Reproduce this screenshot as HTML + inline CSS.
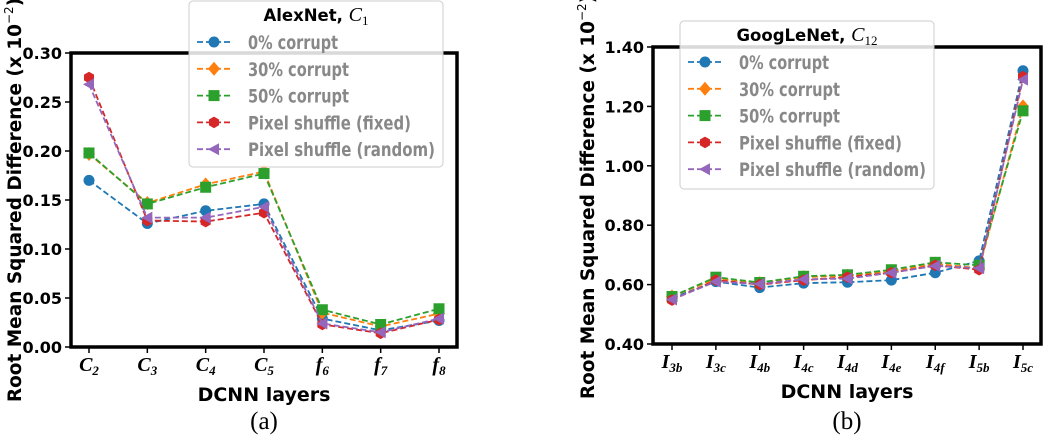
<!DOCTYPE html>
<html><head><meta charset="utf-8"><style>
body{margin:0;background:#fff;width:1050px;height:437px;overflow:hidden}
</style></head><body>
<svg id="s" width="1050" height="437" xmlns="http://www.w3.org/2000/svg" font-family="DejaVu Sans, Liberation Sans, sans-serif"></svg>
<script>
const alexCats=["C","C","C","C","f","f","f"];
const alexSubs=["2","3","4","5","6","7","8"];
const alexTicks=[0,0.05,0.10,0.15,0.20,0.25,0.30];
const alex0=[0.170,0.126,0.139,0.146,0.029,0.017,0.027];
const alex30=[0.197,0.147,0.166,0.179,0.035,0.021,0.034];
const alex50=[0.198,0.146,0.163,0.177,0.038,0.023,0.039];
const alexFixed=[0.275,0.129,0.128,0.137,0.023,0.014,0.028];
const alexRandom=[0.268,0.132,0.132,0.143,0.024,0.015,0.029];
const gCats=["I","I","I","I","I","I","I","I","I"];
const gSubs=["3b","3c","4b","4c","4d","4e","4f","5b","5c"];
const gTicks=[0.4,0.6,0.8,1.0,1.2,1.4];
const g0=[0.555,0.610,0.590,0.605,0.608,0.615,0.640,0.680,1.320];
const g30=[0.560,0.620,0.605,0.625,0.630,0.645,0.670,0.655,1.200];
const g50=[0.560,0.625,0.607,0.628,0.633,0.650,0.675,0.665,1.185];
const gFixed=[0.548,0.615,0.600,0.615,0.625,0.640,0.665,0.650,1.300];
const gRandom=[0.550,0.610,0.602,0.618,0.620,0.640,0.663,0.655,1.290];
const seriesNames=["0% corrupt","30% corrupt","50% corrupt","Pixel shuffle (fixed)","Pixel shuffle (random)"];
const colors=["#1f77b4","#ff7f0e","#2ca02c","#d62728","#9467bd"];
const markers=["circle","diamond","square","hexagon","triangle"];
const legendWidths=[90,101,101,163,187];
const NS="http://www.w3.org/2000/svg";
const SERIF="Liberation Serif, DejaVu Serif, serif";
const svg=document.getElementById("s");
function mk(t,a,p){const e=document.createElementNS(NS,t);for(const k in a)e.setAttribute(k,a[k]);(p||svg).appendChild(e);return e;}
function marker(type,x,y,c,g){
 let e;
 if(type==="circle")e=mk("circle",{cx:x,cy:y,r:5.5,fill:c},g);
 else if(type==="diamond")e=mk("polygon",{points:`${x},${y-7} ${x+6},${y} ${x},${y+7} ${x-6},${y}`,fill:c},g);
 else if(type==="square")e=mk("rect",{x:x-5.5,y:y-5.5,width:11,height:11,fill:c},g);
 else if(type==="hexagon"){let p=[];for(let i=0;i<6;i++){const a=Math.PI/3*i+Math.PI/6;p.push((x+5.8*Math.cos(a))+","+(y+5.8*Math.sin(a)));}e=mk("polygon",{points:p.join(" "),fill:c},g);}
 else e=mk("polygon",{points:`${x-6},${y} ${x+5},${y-6} ${x+5},${y+6}`,fill:c},g);
 return e;
}
function chart(o){
 const g=mk("g",{});
 
 
 const xs=i=>o.x0+i*(o.x1-o.x0)/(o.cats.length-1);
 const ys=v=>o.yB+(v-o.vMin)/(o.vMax-o.vMin)*(o.yT-o.yB);
 o.series.forEach((d,si)=>{
  const sg=mk("g",{},g);
  
  
  mk("polyline",{points:d.map((v,i)=>xs(i)+","+ys(v)).join(" "),fill:"none",stroke:colors[si],"stroke-width":1.8,"stroke-dasharray":"6,3"},sg);
  d.forEach((v,i)=>{const m=marker(markers[si],xs(i),ys(v),colors[si],sg);});
 });
 const fr=mk("rect",{x:o.L,y:o.yT,width:o.R-o.L,height:o.yB-o.yT,fill:"none",stroke:"#000","stroke-width":3.5},g);
 
 o.ticks.forEach(t=>{const y=ys(t);mk("line",{x1:o.L-6,x2:o.L,y1:y,y2:y,stroke:"#000","stroke-width":1.5},g);
  const tx=mk("text",{x:o.L-9,y:y+6,"text-anchor":"end","font-size":16,"font-weight":"bold"},g);tx.textContent=t.toFixed(2);
  });
 o.cats.forEach((c,i)=>{const x=xs(i);mk("line",{x1:x,x2:x,y1:o.yB,y2:o.yB+6,stroke:"#000","stroke-width":1.5},g);
  const tx=mk("text",{x:x,y:o.yB+24,"text-anchor":"middle","font-size":20,"font-style":"italic","font-family":SERIF,"font-weight":"bold"},g);
  
  tx.textContent=c;const sb=mk("tspan",{"font-size":13,dy:4},tx);sb.textContent=o.subs[i];});
 const xt=mk("text",{x:(o.L+o.R)/2,y:o.yB+54,"text-anchor":"middle","font-size":19,"font-weight":"bold"},g);xt.textContent="DCNN layers";
 
 const yt=mk("text",{transform:`translate(${o.yTitleX},${o.yTitleY}) rotate(-90)`,"text-anchor":"middle","font-size":18.5,"font-weight":"bold"},g);
 yt.textContent="Root Mean Squared Difference (x 10";const sp=mk("tspan",{"font-size":12,dy:-8,"font-weight":"normal"},yt);sp.textContent="−2";const sp2=mk("tspan",{dy:8},yt);sp2.textContent=")";
 
 const cap=mk("text",{x:(o.L+o.R)/2,y:429,"text-anchor":"middle","font-size":25,"font-family":SERIF},g);cap.textContent=o.cap;
 
 const lg=mk("g",{},g);
 mk("rect",{x:o.lx,y:o.ly,width:o.lw,height:o.lh,rx:4,fill:"#fff","fill-opacity":0.85,stroke:"#ccc","stroke-width":1},lg);
 const ttl=mk("text",{x:o.lx+o.lw/2,y:o.ly+20,"text-anchor":"middle","font-size":16.5,"font-weight":"bold"},lg);ttl.textContent=o.ltitle+", ";
 const ti=mk("tspan",{"font-style":"italic","font-family":SERIF,"font-size":20,"font-weight":"normal"},ttl);ti.textContent="C";
 const ts=mk("tspan",{"font-size":13,dy:4,"font-family":SERIF,"font-weight":"normal"},ttl);ts.textContent=o.lsub;
 seriesNames.forEach((n,i)=>{const y=o.ly+41+i*26.8;const eg=mk("g",{},lg);
  
  mk("line",{x1:o.lx+8,x2:o.lx+44,y1:y,y2:y,stroke:colors[i],"stroke-width":1.8,"stroke-dasharray":"6,3"},eg);
  marker(markers[i],o.lx+25,y,colors[i],eg);
  const t=mk("text",{x:o.lx+59,y:y+7,"font-size":19,"font-weight":"bold",fill:"#888",textLength:legendWidths[i],lengthAdjust:"spacingAndGlyphs"},eg);t.textContent=n;});
}
chart({name:"chart-alexnet",cats:alexCats,subs:alexSubs,ticks:alexTicks,vMin:0,vMax:0.30,series:[alex0,alex30,alex50,alexFixed,alexRandom],
 L:71,R:457,yT:53,yB:347,x0:89,x1:439,yTitleX:21,yTitleY:200,cap:"(a)",lx:189,ly:1,lw:254,lh:166,ltitle:"AlexNet",lsub:"1"});
chart({name:"chart-googlenet",cats:gCats,subs:gSubs,ticks:gTicks,vMin:0.4,vMax:1.4,series:[g0,g30,g50,gFixed,gRandom],
 L:653,R:1041,yT:47,yB:344,x0:672,x1:1023,yTitleX:594,yTitleY:197,cap:"(b)",lx:680,ly:21,lw:254,lh:168,ltitle:"GoogLeNet",lsub:"12"});
</script>
</body></html>
